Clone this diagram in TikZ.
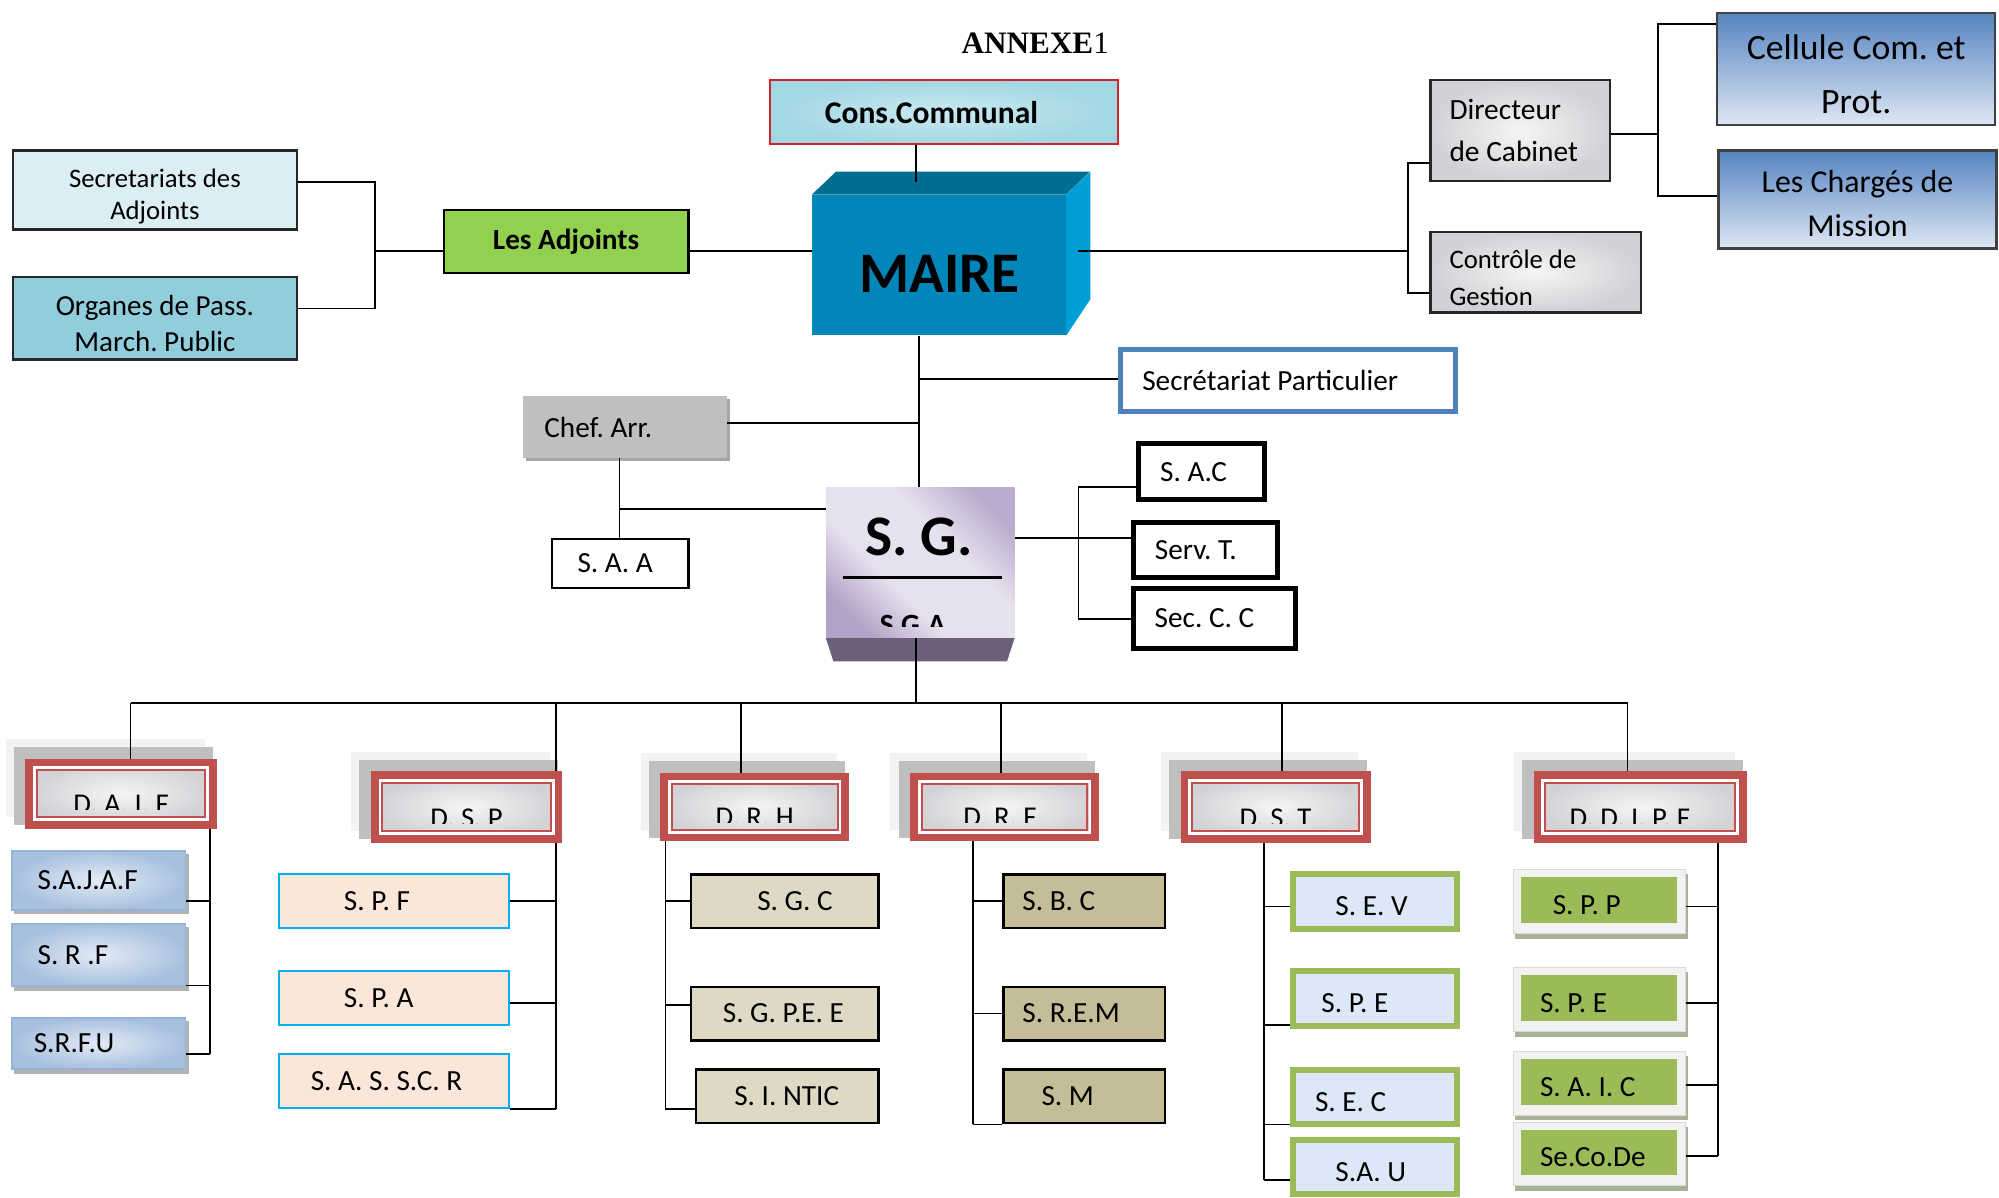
\documentclass[tikz,border=0pt]{standalone}
\usepackage{fontspec}
\setmainfont{Carlito}
\newfontfamily\titlefont{Liberation Serif}
\frenchspacing
\pgfdeclarelayer{shadow}
\pgfdeclarelayer{background}
\pgfsetlayers{shadow,background,main}
\definecolor{consred}{HTML}{D2232A}
\definecolor{consblue}{HTML}{A2D7E3}
\definecolor{consblue2}{HTML}{CBEAF1}
\definecolor{mairefront}{HTML}{0086B8}
\definecolor{mairetop}{HTML}{006D92}
\definecolor{maireside}{HTML}{009ED6}
\definecolor{adjgreen}{HTML}{92D050}
\definecolor{secblue}{HTML}{DAEEF3}
\definecolor{orgblue}{HTML}{92CDDC}
\definecolor{celldark}{HTML}{5584C2}
\definecolor{celllight}{HTML}{DEE7F3}
\definecolor{partblue}{HTML}{4F81BD}
\definecolor{chefgray}{HTML}{BFBFBF}
\definecolor{sgdark}{HTML}{B3A2C7}
\definecolor{sglight}{HTML}{E6E1EE}
\definecolor{sgbase}{HTML}{6B5F7A}
\definecolor{dirred}{HTML}{C0504D}
\definecolor{shadegray}{HTML}{BFBFBF}
\definecolor{shadelight}{HTML}{F2F2F2}
\definecolor{marble1}{HTML}{F5F5F6}
\definecolor{marble2}{HTML}{D2D2D6}
\definecolor{daifblue}{HTML}{A8C0DF}
\definecolor{daiflight}{HTML}{E3EBF5}
\definecolor{daifedge}{HTML}{95B3D7}
\definecolor{peach}{HTML}{FBE7D9}
\definecolor{cyanline}{HTML}{00B0F0}
\definecolor{drhfill}{HTML}{DDD9C4}
\definecolor{drffill}{HTML}{C4BD97}
\definecolor{dstfill}{HTML}{DCE8F7}
\definecolor{dstline}{HTML}{9BBB59}
\definecolor{ddgreen}{HTML}{9BBB59}
\definecolor{ddframe}{HTML}{F2F2F2}
\definecolor{ddshadow}{HTML}{A9B297}
\pgfdeclareverticalshading{sgshade}{100bp}{color(0bp)=(sgdark); color(24bp)=(sgdark); color(40bp)=(sglight); color(60bp)=(sglight); color(76bp)=(sgdark!85!sglight); color(100bp)=(sgdark!85!sglight)}
\tikzset{
  sz/.style 2 args={minimum width=#1*0.025cm, minimum height=#2*0.025cm, inner sep=0pt},
  bx/.style n args={3}{minimum width=#1*0.025cm, minimum height=#2*0.025cm,
    text width=#1*0.025cm, inner sep=0pt, align=flush left,
    execute at begin node={\pgfmathsetlength{\leftskip}{#3*0.025cm}}},
  txt/.style={font=\fontsize{16.3}{19.5}\selectfont},
  link/.style={line width=1pt},
  dirbox/.style={draw=dirred, line width=4.3pt, inner color=marble1, outer color=marble2,
    path picture={
      \draw[white, line width=1.5pt] ([shift={(4,-4)}]path picture bounding box.south west) rectangle ([shift={(-4,4)}]path picture bounding box.north east);
      \draw[dirred, line width=1.1pt] ([shift={(6,-6)}]path picture bounding box.south west) rectangle ([shift={(-6,6)}]path picture bounding box.north east);}},
  dirtext/.style={font=\fontsize{16}{19}\selectfont, anchor=base, inner sep=0pt},
  marblebox/.style={draw=black!85, line width=1.3pt, inner color=marble1, outer color=marble2},
  cellbox/.style={draw=black!75, line width=1.3pt, top color=celldark, bottom color=celllight, align=center},
  thickbox/.style={txt, draw=black, line width=2.6pt, fill=white},
  daifsvc/.style={txt, draw=daifedge, line width=1pt, inner color=daiflight, outer color=daifblue},
  dspsvc/.style={txt, draw=cyanline, line width=1.1pt, fill=peach},
  drhsvc/.style={txt, draw=black, line width=1.4pt, fill=drhfill},
  drfsvc/.style={txt, draw=black, line width=1.4pt, fill=drffill},
  dstsvc/.style={txt, draw=dstline, line width=3.3pt, fill=dstfill, text height=16.2pt},
  ddsvc/.style={txt, fill=ddframe, draw=black!15, line width=0.4pt, text height=14.8pt,
    path picture={\fill[ddgreen] ([shift={(6,-8)}]path picture bounding box.south west) rectangle ([shift={(-6.5,6)}]path picture bounding box.north east);}}
}

\begin{document}
\begin{tikzpicture}[x=0.025cm,y=-0.025cm]
    \useasboundingbox (0,0) rectangle (1568,939);

    % haut
    \node[font=\titlefont\fontsize{17.4}{20}\selectfont] (annexe) at (812,34) {\textbf{ANNEXE}1};
    \node[bx={273}{50}{43}, draw=consred, line width=1.1pt, inner color=consblue2, outer color=consblue, font=\bfseries\fontsize{17.6}{21}\selectfont] (cons) at (740.5,88) {Cons.Communal};
    \node[sz={199}{110}, fill=mairefront] (maire) at (736.5,208) {};
    \node[font=\bfseries\fontsize{32}{38}\selectfont] (mairetxt) at (737,214.5) {MAIRE};

    \node[sz={192}{49}, draw=black, line width=1.2pt, fill=adjgreen, font=\bfseries\fontsize{16.3}{19.5}\selectfont] (adjoints) at (444,189.5) {Les Adjoints};
    \node[sz={223}{62}, draw=black!85, line width=1.2pt, fill=secblue, align=center, text height=35pt, font=\fontsize{14.9}{17.8}\selectfont] (secad) at (121.5,149) {Secretariats des\\Adjoints};
    \node[sz={223}{65}, draw=black!85, line width=1.2pt, fill=orgblue, align=center, text height=37.2pt, font=\fontsize{16.2}{19.9}\selectfont] (organes) at (121.5,249.5) {Organes de Pass.\\March. Public};

    \node[marblebox, bx={141}{79}{15}, font=\fontsize{16.4}{23.5}\selectfont] (diro) at (1192.5,102.5) {Directeur\\de Cabinet};
    \node[marblebox, bx={165}{63}{15}, text height=16.4pt, font=\fontsize{14.9}{20.6}\selectfont] (ctrl) at (1204.5,213.5) {Contrôle de\\Gestion};
    \node[cellbox, sz={218}{88}, text height=49.6pt, font=\fontsize{19.9}{29.9}\selectfont] (cellule) at (1456,54) {Cellule Com. et\\Prot.};
    \node[cellbox, sz={218}{77}, text height=41.2pt, font=\fontsize{17.8}{24.2}\selectfont] (charges) at (1457,156.5) {Les Chargés de\\Mission};

    % milieu
    \node[txt, bx={263}{49}{17}, draw=partblue, line width=2.8pt, fill=white] (part) at (1010.5,298.5) {Secrétariat Particulier};
    \node[txt, bx={160}{48}{17}, fill=chefgray] (chef) at (490,335) {Chef. Arr.};
    \node[txt, bx={107}{38}{20}, draw=black, line width=1.2pt, fill=white] (saa) at (486.5,442) {S. A. A};

    \node[sz={147.6}{118}, shading=sgshade, shading angle=-45] (sg) at (721.8,441) {};
    \node[font=\bfseries\fontsize{32}{38}\selectfont] (sgtxt) at (721,421) {S. G.};
    \draw[line width=1.2pt] (661,453) -- (786,453);
    \begin{scope}
        \clip (648,460) rectangle (796,491.5);
        \node[font=\bfseries\fontsize{16.4}{19}\selectfont, anchor=base, inner sep=0pt] (sga) at (716,498) {S.G.A};
    \end{scope}

    \node[thickbox, bx={99}{44}{17}] (sac) at (942.5,370) {S. A.C};
    \node[thickbox, bx={112.5}{43}{16.5}] (servt) at (945.6,431.5) {Serv. T.};
    \node[thickbox, bx={127}{47}{16.5}] (secc) at (952.75,485) {Sec. C. C};

    % directions
    \node[dirbox, sz={144}{49}] (daif) at (95,622.5) {};
    \node[dirbox, sz={144}{50}] (dsp) at (366,633) {};
    \node[dirbox, sz={142}{48}] (drh) at (592,633) {};
    \node[dirbox, sz={142}{48}] (drf) at (788,633) {};
    \node[dirbox, sz={143}{50}] (dst) at (1000.5,633) {};
    \node[dirbox, sz={161}{50}] (ddipf) at (1286.5,633) {};
    \begin{scope}
        \clip (daif.north west) rectangle ([yshift=0.375cm]daif.south east);
        \node[dirtext] (daiftxt) at ([yshift=0.3cm]daif.south) {D. A. I. F};
    \end{scope}
    \begin{scope}
        \clip (dsp.north west) rectangle ([yshift=0.375cm]dsp.south east);
        \node[dirtext] (dsptxt) at ([yshift=0.3cm]dsp.south) {D. S. P};
    \end{scope}
    \begin{scope}
        \clip (drh.north west) rectangle ([yshift=0.375cm]drh.south east);
        \node[dirtext] (drhtxt) at ([yshift=0.3cm]drh.south) {D. R. H};
    \end{scope}
    \begin{scope}
        \clip (drf.north west) rectangle ([yshift=0.375cm]drf.south east);
        \node[dirtext] (drftxt) at ([xshift=-0.09cm,yshift=0.3cm]drf.south) {D. R. F};
    \end{scope}
    \begin{scope}
        \clip (dst.north west) rectangle ([yshift=0.375cm]dst.south east);
        \node[dirtext] (dsttxt) at ([yshift=0.3cm]dst.south) {D. S. T};
    \end{scope}
    \begin{scope}
        \clip (ddipf.north west) rectangle ([yshift=0.375cm]ddipf.south east);
        \node[dirtext] (ddipftxt) at ([xshift=-0.2cm,yshift=0.3cm]ddipf.south) {D. D. I. P. F};
    \end{scope}

    % services
    \node[daifsvc, bx={136}{46}{20}] (sajaf) at (77.5,690.5) {S.A.J.A.F};
    \node[daifsvc, bx={136}{49}{20}] (srf) at (77.5,749) {S. R .F};
    \node[daifsvc, bx={136}{40}{17}] (srfu) at (77.5,818.5) {S.R.F.U};

    \node[dspsvc, bx={180.5}{42.5}{51}] (spf) at (309,707) {S. P. F};
    \node[dspsvc, bx={180.5}{42.5}{51}] (spa) at (309,783) {S. P. A};
    \node[dspsvc, bx={180.5}{42.5}{25}] (sasscr) at (309,848) {S. A. S. S.C. R};

    \node[drhsvc, bx={147}{42}{52}] (sgc) at (615.5,707) {S. G. C};
    \node[drhsvc, bx={147}{42}{25}] (sgpee) at (615.5,795) {S. G. P.E. E};
    \node[drhsvc, bx={143}{42}{30}] (sintic) at (617.5,860) {S. I. NTIC};

    \node[drfsvc, bx={127}{42}{15}] (sbc) at (850.5,707) {S. B. C};
    \node[drfsvc, bx={127}{42}{15}] (srem) at (850.5,795) {S. R.E.M};
    \node[drfsvc, bx={127}{42}{30}] (sm) at (850.5,860) {S. M};

    \node[dstsvc, bx={128}{43}{33}] (sev) at (1078.5,707) {S. E. V};
    \node[dstsvc, bx={128}{43}{22}] (spe) at (1078.5,783) {S. P. E};
    \node[dstsvc, bx={128}{42.5}{17}] (sec) at (1078.5,860.5) {S. E. C};
    \node[dstsvc, bx={128}{42.5}{33}] (sau) at (1078.5,915.5) {S.A. U};

    \node[ddsvc, bx={135}{50}{31}] (spp) at (1254.5,707) {S. P. P};
    \node[ddsvc, bx={135}{50}{21}] (spe2) at (1254.5,784) {S. P. E};
    \node[ddsvc, bx={135}{50}{21}] (saic) at (1254.5,849.5) {S. A. I. C};
    \node[ddsvc, bx={135}{50}{21}] (secode) at (1254.5,905) {Se.Co.De};

    \begin{pgfonlayer}{background}
        % liaisons du haut
        \coordinate (cm) at (718.7,143);
        \draw[link] (cons.south -| cm) -- (cm);
        \coordinate (ja) at (294,197);
        \coordinate (jsec) at (294,143);
        \coordinate (jorg) at (294,242);
        \draw[link] (ja) -- (maire.west |- ja);
        \draw[link] (secad.east |- jsec) -- (jsec) -- (jorg) -- (organes.east |- jorg);
        \coordinate (mr) at (845.6,197);
        \coordinate (jr) at (1104.5,197);
        \coordinate (jdir) at (1104.5,127.6);
        \coordinate (jctl) at (1104.5,230);
        \draw[link] (mr) -- (jr);
        \draw[link] (diro.west |- jdir) -- (jdir) -- (jctl) -- (ctrl.west |- jctl);
        \coordinate (jc) at (1300.6,105);
        \coordinate (jcel) at (1300.6,19);
        \coordinate (jchg) at (1300.6,153.8);
        \draw[link] (diro.east |- jc) -- (jc);
        \draw[link] (cellule.west |- jcel) -- (jcel) -- (jchg) -- (charges.west |- jchg);

        % maire vers S.G.
        \coordinate (jm) at (720.9,382);
        \coordinate (jp) at (720.9,297);
        \coordinate (jch) at (720.9,331.5);
        \draw[link] (maire.south -| jm) -- (jm);
        \draw[link] (jp) -- (part.west |- jp);
        \draw[link] (chef.east |- jch) -- (jch);
        \coordinate (jsaa) at (486,399);
        \draw[link] (chef.south -| jsaa) -- (saa.north -| jsaa);
        \draw[link] (jsaa) -- (sg.west |- jsaa);
        \coordinate (jst) at (846,421.7);
        \coordinate (jsac) at (846,382);
        \coordinate (jscc) at (846,485.8);
        \draw[link] (sg.east |- jst) -- (servt.west |- jst);
        \draw[link] (sac.west |- jsac) -- (jsac) -- (jscc) -- (secc.west |- jscc);

        % bus des directions
        \coordinate (jsg) at (718.5,551.2);
        \coordinate (bl) at (102.4,551.2);
        \coordinate (br) at (1276.6,551.2);
        \draw[link] (sg.south -| jsg) -- (jsg);
        \draw[link] (bl) -- (br);
        \draw[link] (bl) -- (daif.north -| bl);
        \coordinate (dspb) at (435.9,870);
        \draw[link] (dspb |- bl) -- (dspb);
        \coordinate (drhd) at (581,551.2);
        \coordinate (drfd) at (785,551.2);
        \coordinate (dstd) at (1005.6,551.2);
        \draw[link] (drhd) -- (drh.north -| drhd);
        \draw[link] (drfd) -- (drf.north -| drfd);
        \draw[link] (dstd) -- (dst.north -| dstd);
        \draw[link] (br) -- (ddipf.north -| br);

        % services
        \coordinate (daifb) at (164.5,827);
        \draw[link] (daif.south -| daifb) -- (daifb);
        \foreach \n/\y in {sajaf/707,srf/773,srfu/827}{
            \coordinate (\n-j) at (164.5,\y);
            \draw[link] (\n.east |- \n-j) -- (\n-j);}
        \foreach \n/\y in {spf/707,spa/787,sasscr/870}{
            \coordinate (\n-j) at (435.9,\y);
            \draw[link] (\n.east |- \n-j) -- (\n-j);}
        \coordinate (drhb) at (522,870);
        \draw[link] (drh.south -| drhb) -- (drhb);
        \foreach \n/\y in {sgc/707,sgpee/788,sintic/870}{
            \coordinate (\n-j) at (522,\y);
            \draw[link] (\n-j) -- (\n.west |- \n-j);}
        \coordinate (drfb) at (763,882);
        \draw[link] (drf.south -| drfb) -- (drfb);
        \foreach \n/\y in {sbc/707,srem/795,sm/882}{
            \coordinate (\n-j) at (763,\y);
            \draw[link] (\n-j) -- (\n.west |- \n-j);}
        \coordinate (dstb) at (991.6,925.6);
        \draw[link] (dst.south -| dstb) -- (dstb);
        \foreach \n/\y in {sev/711,spe/804,sec/882,sau/925.6}{
            \coordinate (\n-j) at (991.6,\y);
            \draw[link] (\n-j) -- (\n.west |- \n-j);}
        \coordinate (ddipfb) at (1347.6,907);
        \draw[link] (ddipf.south -| ddipfb) -- (ddipfb);
        \foreach \n/\y in {spp/711,spe2/787,saic/851,secode/907}{
            \coordinate (\n-j) at (1347.6,\y);
            \draw[link] (\n.east |- \n-j) -- (\n-j);}
    \end{pgfonlayer}

    \begin{pgfonlayer}{shadow}
        \fill[white] (0,0) rectangle (1568,939);
        \fill[mairetop] (maire.north west) -- ++(19,-18) -- ++(199,0) -- (maire.north east) -- cycle;
        \fill[maireside] (maire.north east) -- ++(19,-18) -- ++(0,100) -- (maire.south east) -- cycle;
        \fill[sgbase] (sg.south west) -- (sg.south east) -- ([shift={(-6,18.5)}]sg.south east) -- ([shift={(6,18.5)}]sg.south west) -- cycle;
        \fill[gray!70] ([shift={(2.5,2.5)}]chef.south west) rectangle ([shift={(2.5,2.5)}]chef.north east);
        \foreach \n in {daif,dsp,drh,drf,dst,ddipf}{
            \fill[shadelight] ([shift={(-15.5,-9)}]\n.south west) rectangle ([shift={(-9.5,-15)}]\n.north east);
            \fill[shadegray] ([shift={(-9,-3)}]\n.south west) rectangle ([shift={(-3,-9)}]\n.north east);}
        \foreach \n in {sajaf,srf,srfu}
            \fill[gray!60] ([shift={(2,3)}]\n.south west) rectangle ([shift={(2,3)}]\n.north east);
        \foreach \n in {spp,spe2,saic,secode}
            \fill[ddshadow] ([shift={(2,4)}]\n.south west) rectangle ([shift={(2,4)}]\n.north east);
    \end{pgfonlayer}
\end{tikzpicture}
\end{document}
